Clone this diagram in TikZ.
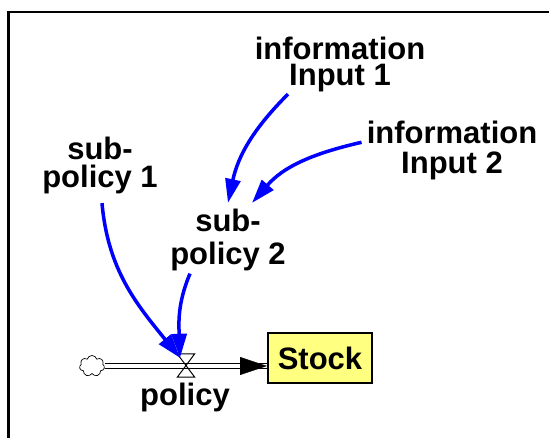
\documentclass[tikz,border=0pt]{standalone}
\usepackage{fontspec}
\setmainfont{Liberation Sans}
\usetikzlibrary{arrows.meta,shapes.symbols}
\definecolor{stockfill}{RGB}{255,255,128}

\begin{document}
\begin{tikzpicture}[x=1pt,y=1pt,
	var/.style={font=\bfseries\fontsize{31}{#1}\selectfont,align=center,inner sep=2pt,anchor=base},
	var/.default=30,
	link/.style={blue,line width=3.5pt,-{Triangle[length=24pt,width=15pt]}},
	pipe/.style={double,double distance=3.3pt,line width=1.8pt}]
	\useasboundingbox (0,0) rectangle (549,438);
	\draw[line width=2.5pt] (8.7,0) -- (8.7,426) -- (549,426);
	% variables
	\node[var=26] (in1) at (340,352) {information\\Input 1};
	\node[var=30] (in2) at (452,264.7) {information\\Input 2};
	\node[var=28] (sp1) at (100,250.7) {sub-\\policy 1};
	\node[var=33] (sp2) at (228,173) {sub-\\policy 2};
	% stock and flow
	\node[draw,line width=2pt,fill=stockfill,minimum width=104pt,minimum height=50pt,
		font=\bfseries\fontsize{31}{30}\selectfont] (stock) at (320,80) {Stock};
	\node[cloud,cloud puffs=7,draw,line width=0.7pt,minimum width=25pt,minimum height=21pt,inner sep=0pt] (cloud) at (92,72) {};
	\node[minimum width=17pt,minimum height=23pt,inner sep=0pt] (valve) at (186,72.5) {};
	\node[var] (policy) at (185,32) {policy};
	\draw[pipe] (cloud.east) -- (stock.west |- cloud.east);
	\draw[-{Triangle[length=27pt,width=18pt]}] ([xshift=-27pt]stock.west |- cloud.east) -- (stock.west |- cloud.east);
	\draw[line width=1pt] (valve.north west) -- (valve.north east) -- (valve.south west) -- (valve.south east) -- cycle;
	% causal links
	\draw[link] ([shift={(-52pt,0.5pt)}]in1.south) to[out=225,in=78] ([yshift=4.4pt]sp2.north);
	\draw[link] ([shift={(-3pt,8pt)}]in2.west) to[out=193,in=49] ([shift={(24pt,4.4pt)}]sp2.north);
	\draw[link] ([shift={(2pt,-7.2pt)}]sp1.south) to[out=275,in=129] ([shift={(-6pt,-4pt)}]valve.north);
	\draw[link] ([xshift=-38pt]sp2.south) to[out=247,in=92] ([shift={(-6pt,-4pt)}]valve.north);
\end{tikzpicture}
\end{document}
